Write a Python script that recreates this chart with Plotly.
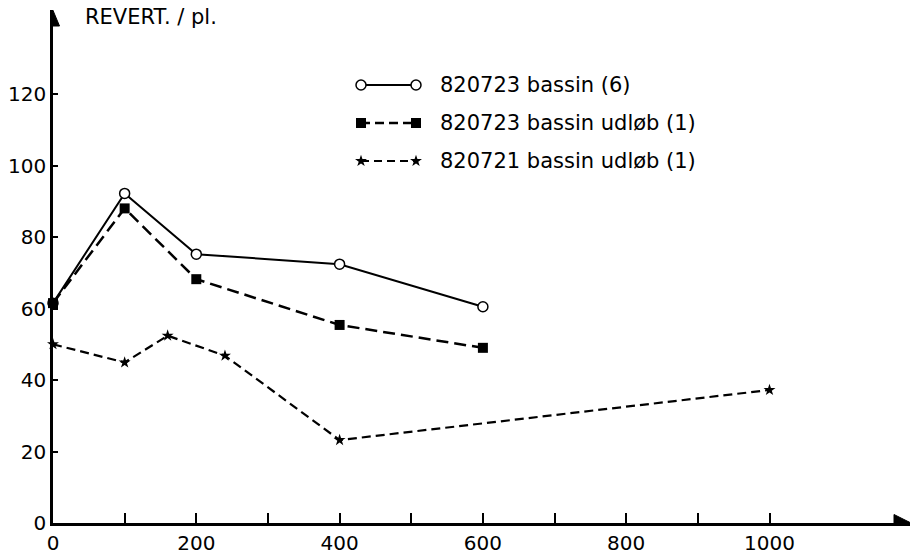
import plotly.graph_objects as go

# ---- data ----
x_bassin = [0, 100, 200, 400, 600]
y_bassin = [61.5, 92.2, 75.2, 72.4, 60.5]

x_udlob23 = [0, 100, 200, 400, 600]
y_udlob23 = [61.5, 88.0, 68.2, 55.4, 49.0]

x_udlob21 = [0, 100, 160, 240, 400, 1000]
y_udlob21 = [50.0, 44.9, 52.4, 46.8, 23.2, 37.2]

series_names = ["820723 bassin (6)", "820723 bassin udløb (1)", "820721 bassin udløb (1)"]

x_tickvals = list(range(0, 1001, 100))
x_ticktext = ["0", "", "200", "", "400", "", "600", "", "800", "", "1000"]
y_tickvals = list(range(0, 121, 20))
y_ticktext = [str(v) for v in y_tickvals]

# ---- layout geometry (pixels) ----
W, H = 914, 560
ML, MR, MT, MB = 53, 4, 10, 37
px_per_x = 0.7165
px_per_y = 3.575
x_max = (W - ML - MR) / px_per_x
y_max = (H - MT - MB) / px_per_y

FONT = "DejaVu Sans"
FS = 21
FS_TICK = 20
BLACK = "black"

fig = go.Figure()

# data traces
fig.add_trace(go.Scatter(x=x_bassin, y=y_bassin, mode="lines+markers",
                         line=dict(color=BLACK, width=2),
                         marker=dict(symbol="circle", size=10, color="white",
                                     line=dict(color=BLACK, width=1.5)),
                         name=series_names[0], cliponaxis=False))
fig.add_trace(go.Scatter(x=x_udlob23, y=y_udlob23, mode="lines+markers",
                         line=dict(color=BLACK, width=2.5, dash="12px,6px"),
                         marker=dict(symbol="square", size=10, color=BLACK),
                         name=series_names[1], cliponaxis=False))
fig.add_trace(go.Scatter(x=x_udlob21, y=y_udlob21, mode="lines+markers",
                         line=dict(color=BLACK, width=2.2, dash="9px,5px"),
                         marker=dict(symbol="star", size=9, color=BLACK),
                         name=series_names[2], cliponaxis=False))

# ---- custom legend on a pixel overlay axis (x2: px from left, y2: px from bottom) ----
leg_x0, leg_x1 = 361, 416
leg_rows = [H - 85, H - 123, H - 161]
leg_styles = [
    dict(line=dict(color=BLACK, width=2),
         marker=dict(symbol="circle", size=10, color="white", line=dict(color=BLACK, width=1.5))),
    dict(line=dict(color=BLACK, width=2.5, dash="9px,5px"),
         marker=dict(symbol="square", size=10, color=BLACK)),
    dict(line=dict(color=BLACK, width=2.2, dash="8px,5px"),
         marker=dict(symbol="star", size=9, color=BLACK)),
]
for yr, st, nm in zip(leg_rows, leg_styles, series_names):
    fig.add_trace(go.Scatter(x=[leg_x0, leg_x1], y=[yr, yr], mode="lines+markers",
                             xaxis="x2", yaxis="y2", hoverinfo="skip", showlegend=False,
                             cliponaxis=False, **st))
    fig.add_annotation(x=438, y=yr, xref="x2", yref="y2", text=nm, showarrow=False,
                       xanchor="left", yanchor="middle",
                       font=dict(family=FONT, size=FS, color=BLACK))

# axis titles
fig.add_annotation(x=83, y=H - 17, xref="x2", yref="y2", text="REVERT. / pl.", showarrow=False,
                   xanchor="left", yanchor="middle", font=dict(family=FONT, size=FS, color=BLACK))
fig.add_annotation(x=826, y=H - 543, xref="x2", yref="y2", text="ml / pl", showarrow=False,
                   xanchor="left", yanchor="middle", font=dict(family=FONT, size=FS, color=BLACK))

# arrow heads
ax_y = H - 523
fig.add_shape(type="path", xref="x2", yref="y2",
              path=f"M 911 {ax_y} L 894 {ax_y + 8.5} L 894 {ax_y - 8.5} Z",
              fillcolor=BLACK, line=dict(color=BLACK, width=1))
fig.add_shape(type="path", xref="x2", yref="y2",
              path=f"M 52 {H - 8} L 44.5 {H - 26} L 59.5 {H - 26} Z",
              fillcolor=BLACK, line=dict(color=BLACK, width=1))
# extend axis lines to arrow heads
fig.add_shape(type="line", xref="x2", yref="y2", x0=W - MR - 1, x1=895, y0=ax_y, y1=ax_y,
              line=dict(color=BLACK, width=2.5))
fig.add_shape(type="line", xref="x2", yref="y2", x0=52, x1=52, y0=H - MT - 1, y1=H - 25,
              line=dict(color=BLACK, width=2.5))

fig.update_layout(
    width=W, height=H,
    margin=dict(l=ML, r=MR, t=MT, b=MB, pad=0),
    paper_bgcolor="white", plot_bgcolor="white",
    showlegend=False,
    font=dict(family=FONT, size=FS, color=BLACK),
    xaxis=dict(range=[0, x_max], showgrid=False, zeroline=False,
               showline=True, linecolor=BLACK, linewidth=2.5,
               ticks="inside", ticklen=10, tickwidth=2, tickcolor=BLACK,
               tickvals=x_tickvals, ticktext=x_ticktext,
               tickfont=dict(family=FONT, size=FS_TICK, color=BLACK)),
    yaxis=dict(range=[0, y_max], showgrid=False, zeroline=False,
               showline=True, linecolor=BLACK, linewidth=2.5,
               ticks="inside", ticklen=5, tickwidth=2, tickcolor=BLACK,
               tickvals=y_tickvals, ticktext=y_ticktext,
               tickfont=dict(family=FONT, size=FS_TICK, color=BLACK)),
    xaxis2=dict(range=[ML, W - MR], overlaying="x", anchor="y2", visible=False, fixedrange=True),
    yaxis2=dict(range=[MB, H - MT], overlaying="y", anchor="x2", visible=False, fixedrange=True),
)

fig.write_html("out.html", config={"displayModeBar": False},
               post_script="document.body.style.margin='0';document.body.style.overflow='hidden';")
